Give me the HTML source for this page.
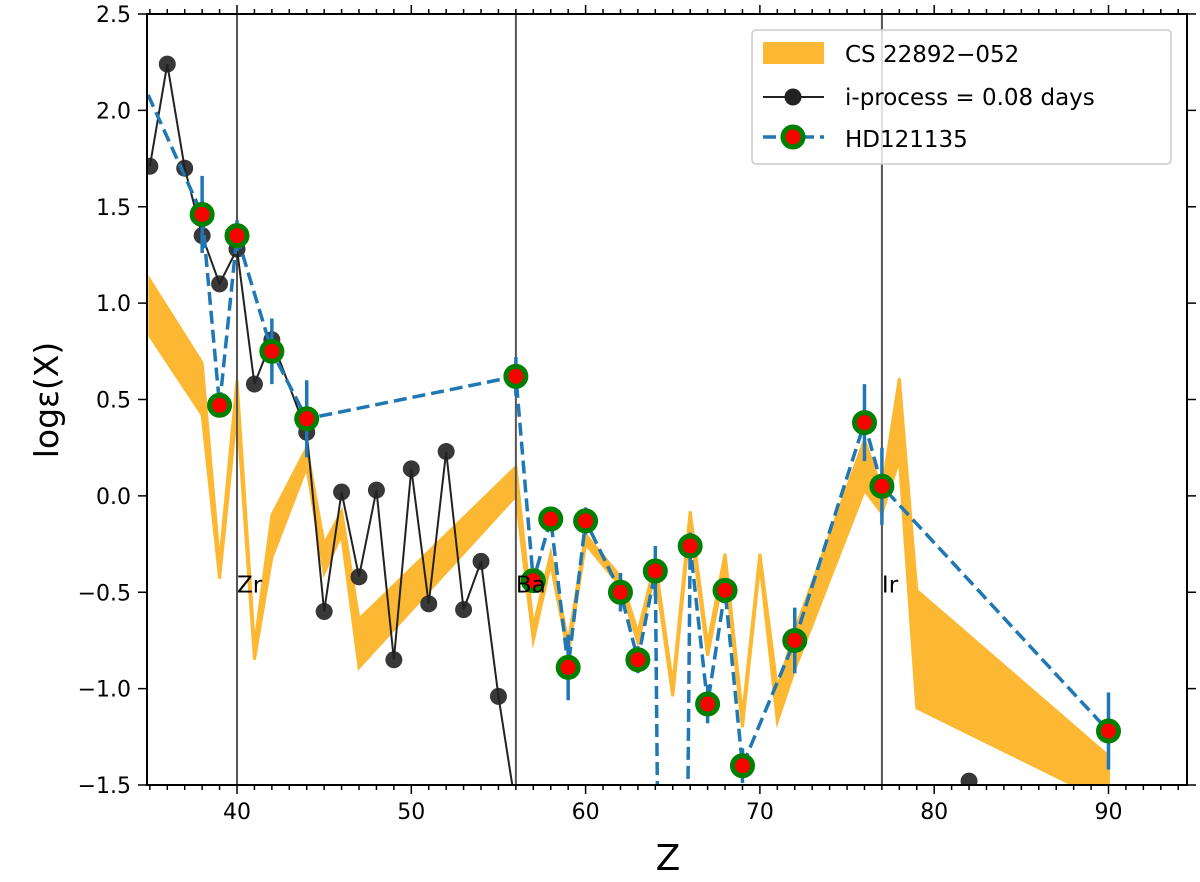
<!DOCTYPE html>
<html><head><meta charset="utf-8"><style>
html,body{margin:0;padding:0;background:#fff;width:1200px;height:882px;overflow:hidden;position:relative;}
svg{display:block;font-family:"DejaVu Sans","Liberation Sans",sans-serif;}
</style></head><body>
<svg id="chart" width="1200" height="882" viewBox="0 0 1200 882" style="position:absolute;left:0;top:0"></svg>
<script>
// ---- data ----
const bandZ     = [35, 38, 39, 40, 41, 42, 44, 45, 46, 47, 56, 57, 58, 59, 60, 62, 63, 64, 65, 66, 67, 68, 69, 70, 71, 72, 76, 77, 78, 79, 90];
const bandLow   = [0.83,0.42,-0.43,0.45,-0.85,-0.32,0.15,-0.40,-0.20,-0.89,0.00,-0.75,-0.35,-0.82,-0.25,-0.47,-0.76,-0.40,-1.04,-0.14,-0.83,-0.37,-1.20,-0.35,-1.17,-0.90,0.03,-0.09,0.19,-1.10,-1.59];
const bandHigh  = [1.12,0.69,-0.35,0.60,-0.78,-0.10,0.25,-0.25,-0.08,-0.64,0.15,-0.68,-0.30,-0.76,-0.20,-0.42,-0.71,-0.34,-0.98,-0.08,-0.77,-0.30,-1.14,-0.30,-1.00,-0.70,0.29,0.03,0.61,-0.49,-1.35];
const iprocZ    = [35,36,37,38,39,40,41,42,44,45,46,47,48,49,50,51,52,53,54,55,56];
const iprocVal  = [1.71,2.24,1.70,1.35,1.10,1.28,0.58,0.81,0.33,-0.60,0.02,-0.42,0.03,-0.85,0.14,-0.56,0.23,-0.59,-0.34,-1.04,-1.62];
const iprocZ2   = [82];
const iprocVal2 = [-1.48];
const hdZ       = [34, 38, 39, 40, 42, 44, 56, 57, 58, 59, 60, 62, 63, 64, 65, 66, 67, 68, 69, 72, 76, 77, 90];
const hdVal     = [2.26,1.46,0.47,1.35,0.75,0.40,0.62,-0.44,-0.12,-0.89,-0.13,-0.50,-0.85,-0.39,-10,-0.26,-1.08,-0.49,-1.40,-0.75,0.38,0.05,-1.22];
const hdErr     = [0,0.20,0.05,0.08,0.17,0.20,0.10,0.05,0.06,0.17,0.07,0.10,0.07,0.13,0,0.07,0.10,0.05,0.09,0.17,0.20,0.20,0.20];
const refZ      = [40, 56, 77];
const refLabel  = ["Zr","Ba","Ir"];
const xTicks    = [40,50,60,70,80,90];
const yTicks    = [-1.5,-1.0,-0.5,0.0,0.5,1.0,1.5,2.0,2.5];

// ---- layout ----
const L=147,R=1187,T=14,B=785;
const X=z=>237+(z-40)*17.43;
const Y=v=>T+(2.5-v)*(B-T)/4;
const NS="http://www.w3.org/2000/svg";
const svg=document.getElementById('chart');
function mk(tag,attrs,parent){const e=document.createElementNS(NS,tag);for(const k in attrs)e.setAttribute(k,attrs[k]);(parent||svg).appendChild(e);return e;}

const defs=mk('defs',{});
const cp=mk('clipPath',{id:'clip'},defs);mk('rect',{x:L,y:T,width:R-L,height:B-T},cp);
const plot=mk('g',{'clip-path':'url(#clip)'});



// band
let d='';
bandZ.forEach((z,i)=>{d+=(i?'L':'M')+X(z)+','+Y(bandHigh[i]);});
for(let i=bandZ.length-1;i>=0;i--)d+='L'+X(bandZ[i])+','+Y(bandLow[i]);
const band=mk('path',{d:d+'Z',fill:'#fdb833',stroke:'#fdb833',"stroke-width":3,"stroke-linejoin":"miter","stroke-miterlimit":6},plot);



// reference lines
refZ.forEach((z,i)=>{
  const ln=mk('line',{x1:X(z),x2:X(z),y1:T,y2:B,stroke:'#555',"stroke-width":2},plot);
  
  
});

// i-process
const ip=mk('polyline',{points:iprocZ.map((z,i)=>X(z)+','+Y(iprocVal[i])).join(' '),fill:'none',stroke:'#222',"stroke-width":2},plot);


iprocZ.concat(iprocZ2).forEach((z,i)=>{
  const v=i<iprocZ.length?iprocVal[i]:iprocVal2[i-iprocZ.length];
  const c=mk('circle',{cx:X(z),cy:Y(v),r:8.5,fill:'#222',"fill-opacity":0.9},plot);
  
  
});

// HD121135
const hd=mk('polyline',{points:hdZ.map((z,i)=>X(z)+','+Y(hdVal[i])).join(' '),fill:'none',stroke:'#1f77b4',"stroke-width":3.5,"stroke-dasharray":"13,6"},plot);


hdZ.forEach((z,i)=>{
  if(hdErr[i]>0){
    const e=mk('line',{x1:X(z),x2:X(z),y1:Y(hdVal[i]+hdErr[i]),y2:Y(hdVal[i]-hdErr[i]),stroke:'#1f77b4',"stroke-width":3.5},plot);
    
    
  }
});
hdZ.forEach((z,i)=>{
  const c=mk('circle',{cx:X(z),cy:Y(hdVal[i]),r:10,fill:'#f00',stroke:'#008000',"stroke-width":5},plot);
  
  
});

// reference labels on top
refZ.forEach((z,i)=>{
  const t=mk('text',{x:X(z),y:Y(-0.46)+8,"font-size":23,fill:'#000'},plot);
  t.textContent=refLabel[i];
  
  
});

// axes frame
const fr=mk('rect',{x:L,y:T,width:R-L,height:B-T,fill:'none',stroke:'#000',"stroke-width":2});



// x ticks
for(let z=35;z<=94;z++){
  const major=z%10===0, len=major?9:5;
  mk('line',{x1:X(z),x2:X(z),y1:B,y2:B+len,stroke:'#000',"stroke-width":1.5});
  mk('line',{x1:X(z),x2:X(z),y1:T,y2:T-len,stroke:'#000',"stroke-width":1.5});
}
xTicks.forEach(z=>{
  const t=mk('text',{x:X(z),y:B+34,"font-size":22,"text-anchor":"middle"});
  t.textContent=z;
  
  
});
yTicks.forEach(v=>{
  mk('line',{x1:L-9,x2:L,y1:Y(v),y2:Y(v),stroke:'#000',"stroke-width":1.5});
  mk('line',{x1:R,x2:R+9,y1:Y(v),y2:Y(v),stroke:'#000',"stroke-width":1.5});
  const t=mk('text',{x:L-16,y:Y(v)+8,"font-size":22,"text-anchor":"end"});
  t.textContent=v.toFixed(1).replace('-','\u2212');
  
  
});
</script>
<svg style="position:absolute;left:0;top:0" width="1200" height="882">
  <text x="668" y="870" font-size="36" text-anchor="middle" font-family="DejaVu Sans, Liberation Sans, sans-serif">Z</text>
  <text transform="translate(58,400) rotate(-90)" font-size="33" text-anchor="middle" font-family="DejaVu Sans, Liberation Sans, sans-serif">logε(X)</text>
  <g font-family="DejaVu Sans, Liberation Sans, sans-serif" font-size="23">
    <rect x="752" y="30" width="419" height="134" rx="4" fill="#fff" fill-opacity="0.8" stroke="#ccc" stroke-width="1.5"/>
    <rect x="763" y="42" width="61" height="22" fill="#fdb833"/>
    <text x="845" y="62">CS 22892−052</text>
    <line x1="763" y1="97" x2="824" y2="97" stroke="#222" stroke-width="2"/>
    <circle cx="793" cy="97" r="8.5" fill="#222"/>
    <text x="845" y="105">i-process = 0.08 days</text>
    <line x1="763" y1="137" x2="824" y2="137" stroke="#1f77b4" stroke-width="3.5" stroke-dasharray="13,6"/>
    <circle cx="793" cy="137" r="10" fill="#f00" stroke="#008000" stroke-width="5"/>
    <text x="845" y="147">HD121135</text>
  </g>
</svg>
</body></html>
